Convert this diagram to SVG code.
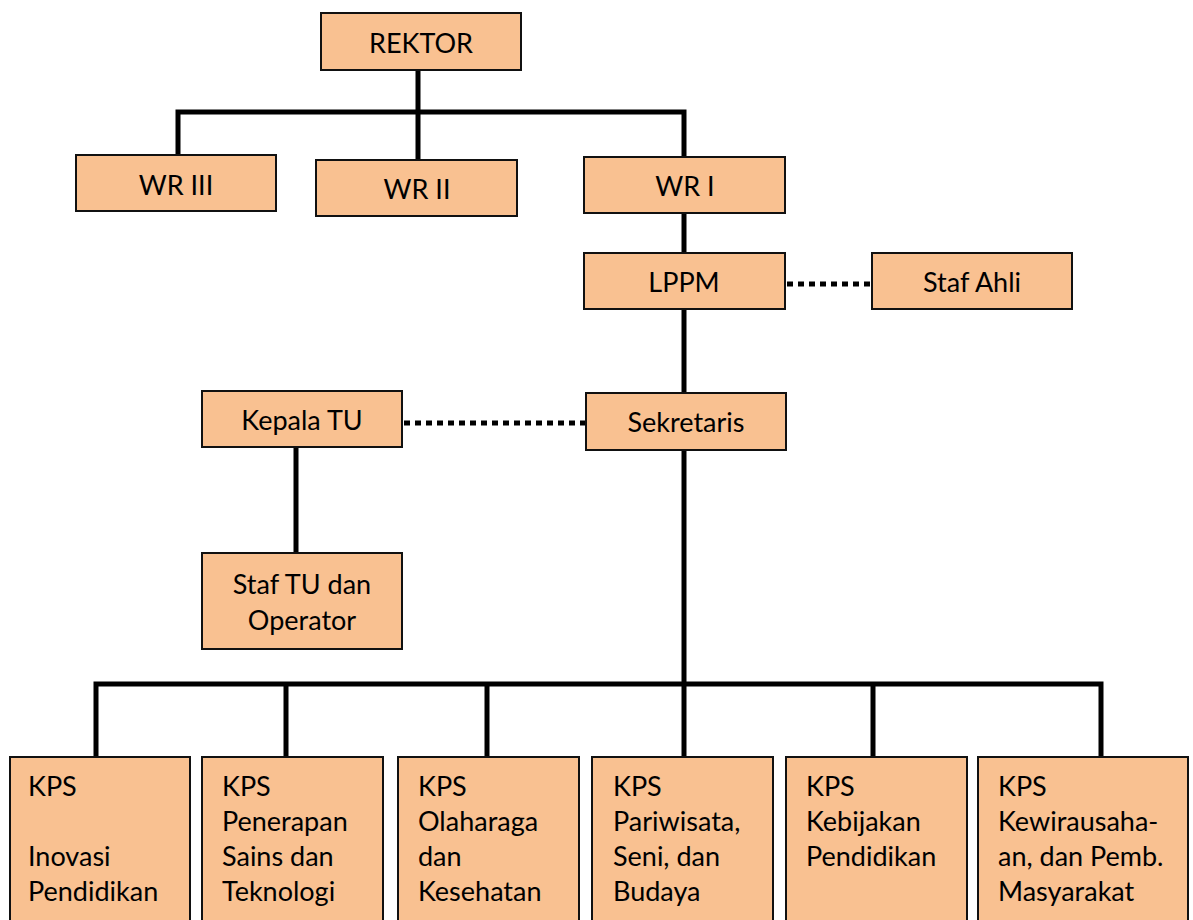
<svg xmlns="http://www.w3.org/2000/svg" width="1193" height="920" viewBox="0 0 1193 920">
<style>
.box{fill:#F9C191;stroke:#111;stroke-width:2}
.ln{stroke:#000;stroke-width:5;fill:none;stroke-linecap:square}
.dot{stroke:#000;stroke-width:5;fill:none;stroke-dasharray:6 5}
text{font-family:Lato,"Open Sans","Liberation Sans",sans-serif;font-size:27px;fill:#000}
.c{text-anchor:middle}
</style>
<rect width="1193" height="920" fill="#fff"/>
<g id="connectors">
<path class="ln" d="M418 70V158M178 154V112H684V156M684 214V252M684 310V392M296 448V552M684 451V756M96 756V684H1101V756M286 684V756M487 684V756M873 684V756"/>
<path class="dot" d="M787 284H871M404 423H585"/>
</g>
<g id="rektor"><rect class="box" x="321" y="13" width="200" height="57"/><text class="c" x="421" y="53">REKTOR</text></g>
<g id="wr3"><rect class="box" x="76" y="155" width="200" height="56"/><text class="c" x="176" y="195">WR III</text></g>
<g id="wr2"><rect class="box" x="316" y="160" width="201" height="56"/><text class="c" x="417" y="199">WR II</text></g>
<g id="wr1"><rect class="box" x="584" y="157" width="201" height="56"/><text class="c" x="685" y="196">WR I</text></g>
<g id="lppm"><rect class="box" x="584" y="253" width="201" height="56"/><text class="c" x="684" y="292">LPPM</text></g>
<g id="stafahli"><rect class="box" x="872" y="253" width="200" height="56"/><text class="c" x="972" y="292">Staf Ahli</text></g>
<g id="kepalatu"><rect class="box" x="202" y="391" width="200" height="56"/><text class="c" x="302" y="430">Kepala TU</text></g>
<g id="sekretaris"><rect class="box" x="586" y="393" width="200" height="57"/><text class="c" x="686" y="432">Sekretaris</text></g>
<g id="staftu"><rect class="box" x="202" y="553" width="200" height="96"/><text class="c" x="302" y="594">Staf TU dan</text><text class="c" x="302" y="630">Operator</text></g>
<g id="kps1"><rect class="box" x="10" y="757" width="180" height="175"/><text x="28" y="796">KPS</text><text x="28" y="866">Inovasi</text><text x="28" y="901">Pendidikan</text></g>
<g id="kps2"><rect class="box" x="202" y="757" width="181" height="175"/><text x="222" y="796">KPS</text><text x="222" y="831">Penerapan</text><text x="222" y="866">Sains dan</text><text x="222" y="901">Teknologi</text></g>
<g id="kps3"><rect class="box" x="398" y="757" width="181" height="175"/><text x="418" y="796">KPS</text><text x="418" y="831">Olaharaga</text><text x="418" y="866">dan</text><text x="418" y="901">Kesehatan</text></g>
<g id="kps4"><rect class="box" x="592" y="757" width="181" height="175"/><text x="613" y="796">KPS</text><text x="613" y="831">Pariwisata,</text><text x="613" y="866">Seni, dan</text><text x="613" y="901">Budaya</text></g>
<g id="kps5"><rect class="box" x="786" y="757" width="181" height="175"/><text x="806" y="796">KPS</text><text x="806" y="831">Kebijakan</text><text x="806" y="866">Pendidikan</text></g>
<g id="kps6"><rect class="box" x="978" y="757" width="210" height="175"/><text x="998" y="796">KPS</text><text x="998" y="831">Kewirausaha-</text><text x="998" y="866">an, dan Pemb.</text><text x="998" y="901">Masyarakat</text></g>
</svg>
